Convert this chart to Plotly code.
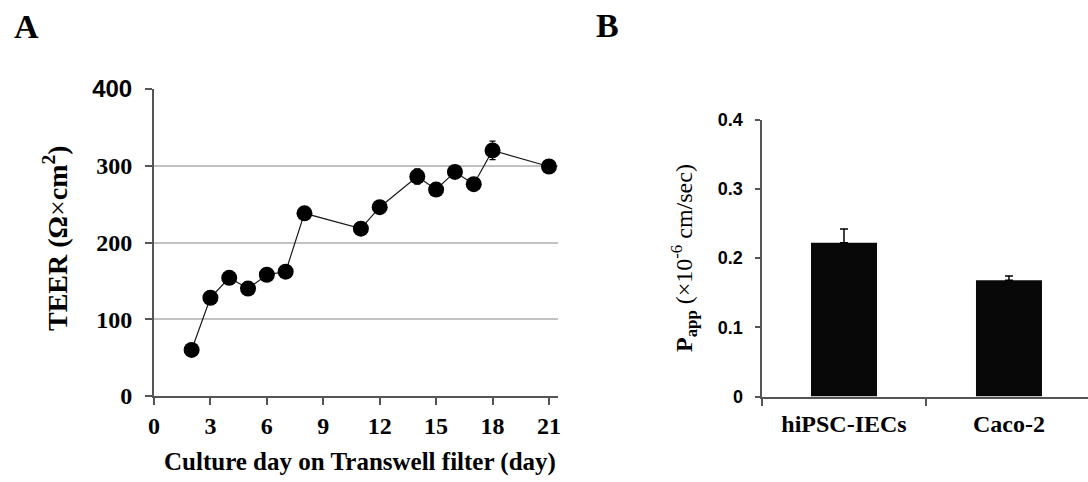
import plotly.graph_objects as go

# Panel A: TEER over culture days
days = [2, 3, 4, 5, 6, 7, 8, 11, 12, 14, 15, 16, 17, 18, 21]
teer = [60, 128, 154, 140, 158, 162, 238, 218, 246, 286, 269, 292, 276, 320, 299]
teer_err = [3, 5, 5, 5, 4, 4, 4, 4, 5, 10, 6, 5, 5, 12, 9]
teer_ticks = [0, 100, 200, 300, 400]
day_ticks = [0, 3, 6, 9, 12, 15, 18, 21]

# Panel B: apparent permeability
cells = ["hiPSC-IECs", "Caco-2"]
papp = [0.222, 0.168]
papp_err = [0.020, 0.006]
papp_ticks = [0, 0.1, 0.2, 0.3, 0.4]

SERIF = "Liberation Serif"
SANS = "Liberation Sans"
W, H = 1088, 482


def px(x):
    return x / W


def py(y):
    return 1 - y / H


fig = go.Figure()

fig.add_trace(go.Scatter(
    x=days, y=teer,
    mode="lines+markers",
    line=dict(color="#1a1a1a", width=1.2),
    marker=dict(color="black", size=16),
    error_y=dict(type="data", array=teer_err, color="black", thickness=1.2, width=3),
    xaxis="x", yaxis="y", showlegend=False,
))

fig.add_trace(go.Bar(
    x=cells, y=papp,
    width=0.4,
    marker=dict(color="#080808", line=dict(width=0)),
    error_y=dict(type="data", array=papp_err, symmetric=False, arrayminus=[0, 0],
                 color="black", thickness=1.5, width=4),
    xaxis="x2", yaxis="y2", showlegend=False,
))

axis_color = "#555555"

y_ticktext = []
for v in teer_ticks:
    if v == 400:
        y_ticktext.append('<b><span style="font-family:Liberation Sans">%d</span></b>' % v)
    else:
        y_ticktext.append("<b>%d</b>" % v)

fig.update_layout(
    template="none",
    width=W, height=H,
    autosize=False,
    margin=dict(l=0, r=0, t=0, b=0, pad=0),
    paper_bgcolor="white",
    plot_bgcolor="white",
    showlegend=False,
    xaxis=dict(
        domain=[px(154), px(558)],
        range=[0, 21.48],
        tickvals=day_ticks,
        ticktext=["<b>%d</b>" % d for d in day_ticks],
        ticks="outside", ticklen=7, tickwidth=2, tickcolor=axis_color,
        showline=True, linecolor=axis_color, linewidth=2,
        showgrid=False, zeroline=False, automargin=False,
        tickfont=dict(family=SERIF, size=24, color="black"),
        anchor="y",
    ),
    yaxis=dict(
        domain=[py(396), py(89)],
        range=[0, 400],
        tickvals=teer_ticks, ticktext=y_ticktext,
        ticks="outside", ticklen=7, tickwidth=2, tickcolor=axis_color,
        ticklabelstandoff=8,
        showline=True, linecolor=axis_color, linewidth=2,
        showgrid=True, gridcolor="#c2c2c2", gridwidth=2,
        zeroline=False, automargin=False,
        tickfont=dict(family=SERIF, size=24, color="black"),
        anchor="x",
    ),
    xaxis2=dict(
        domain=[px(761.5), 1.0],
        range=[-0.5, 1.479],
        type="category",
        tickson="boundaries",
        tickvals=cells,
        ticktext=["<b>%s</b>" % c for c in cells],
        ticks="outside", ticklen=7, tickwidth=2, tickcolor=axis_color,
        ticklabelstandoff=5,
        showline=True, linecolor=axis_color, linewidth=2,
        showgrid=False, zeroline=False, automargin=False,
        tickfont=dict(family=SERIF, size=24, color="black"),
        anchor="y2",
    ),
    yaxis2=dict(
        domain=[py(396.5), py(119.5)],
        range=[0, 0.4],
        tickvals=papp_ticks,
        ticktext=["<b>%s</b>" % t for t in ["0", "0.1", "0.2", "0.3", "0.4"]],
        ticks="outside", ticklen=5, tickwidth=2, tickcolor=axis_color,
        ticklabelstandoff=8,
        showline=True, linecolor=axis_color, linewidth=2,
        showgrid=False, zeroline=False, automargin=False,
        tickfont=dict(family=SANS, size=18, color="black"),
        anchor="x2",
    ),
)

annotations = [
    # panel letters
    dict(text="<b>A</b>", x=px(26), y=py(26), font=dict(family=SERIF, size=34)),
    dict(text="<b>B</b>", x=px(607), y=py(25), font=dict(family=SERIF, size=34)),
    # panel A axis titles
    dict(text="<b>Culture day on Transwell filter (day)</b>", x=px(360), y=py(462),
         font=dict(family=SERIF, size=25)),
    dict(text="<b>TEER (Ω<span style='font-weight:normal'>×</span>cm<sup>2</sup>)</b>",
         x=px(55), y=py(238), textangle=-90, font=dict(family=SERIF, size=28)),
    # panel B axis title
    dict(text="<b>P<sub>app</sub></b> (×10<sup>-6</sup> cm/sec)",
         x=px(684), y=py(258), textangle=-90, font=dict(family=SERIF, size=24)),
]
for a in annotations:
    a.update(xref="paper", yref="paper", showarrow=False,
             xanchor="center", yanchor="middle")
    a["font"]["color"] = "black"
fig.update_layout(annotations=annotations)

fig.write_html("out.html")
